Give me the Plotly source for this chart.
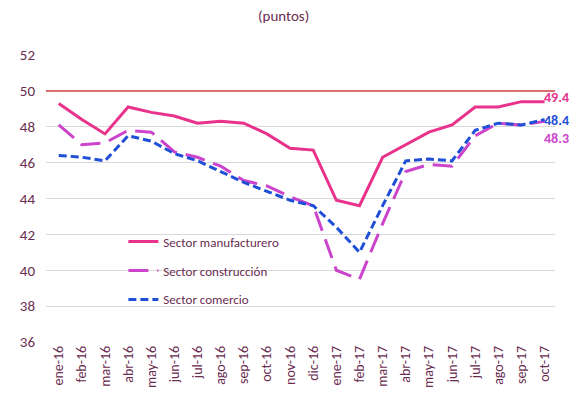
import plotly.graph_objects as go

months = ["ene-16", "feb-16", "mar-16", "abr-16", "may-16", "jun-16", "jul-16", "ago-16",
          "sep-16", "oct-16", "nov-16", "dic-16", "ene-17", "feb-17", "mar-17", "abr-17",
          "may-17", "jun-17", "jul-17", "ago-17", "sep-17", "oct-17"]
manufacturero = [49.3, 48.4, 47.6, 49.1, 48.8, 48.6, 48.2, 48.3, 48.2, 47.6, 46.8, 46.7,
                 43.9, 43.6, 46.3, 47.0, 47.7, 48.1, 49.1, 49.1, 49.4, 49.4]
construccion = [48.1, 47.0, 47.1, 47.8, 47.7, 46.6, 46.3, 45.8, 45.0, 44.7, 44.1, 43.6,
                40.0, 39.5, 42.6, 45.5, 45.9, 45.8, 47.5, 48.2, 48.1, 48.3]
comercio = [46.4, 46.3, 46.1, 47.5, 47.2, 46.5, 46.1, 45.5, 44.9, 44.4, 43.9, 43.6,
            42.4, 41.0, 43.6, 46.1, 46.2, 46.1, 47.8, 48.2, 48.1, 48.4]
y_ticks = [36, 38, 40, 42, 44, 46, 48, 50, 52]
threshold = 50

FONT = "Carlito, 'Liberation Sans Narrow', Lato, 'Open Sans', sans-serif"
TXT = "#6a2c50"
C_MAN = "#e8328c"
C_CON = "#cc44cc"
C_COM = "#1f4fd6"

fig = go.Figure()
fig.add_trace(go.Scatter(x=months, y=manufacturero, mode="lines", name="Sector manufacturero",
                         line=dict(color=C_MAN, width=3), legendgroup="a", cliponaxis=False))
fig.add_trace(go.Scatter(x=months, y=construccion, mode="lines", name="Sector construcción",
                         line=dict(color=C_CON, width=3, dash="20px,9px"), legendgroup="b", cliponaxis=False))
fig.add_trace(go.Scatter(x=months, y=comercio, mode="lines", name="Sector comercio",
                         line=dict(color=C_COM, width=3, dash="8px,4px"), legendgroup="c", cliponaxis=False))

fig.add_shape(type="line", xref="paper", x0=0, x1=1, yref="y", y0=threshold, y1=threshold,
              line=dict(color="#d24444", width=1.5), layer="above")

# end labels
for vals, col, dy in [(manufacturero, C_MAN, 4), (comercio, C_COM, -1), (construccion, C_CON, -17)]:
    fig.add_annotation(x=months[-1], y=vals[-1], text=f"<b>{vals[-1]:.1f}</b>", showarrow=False,
                       xanchor="left", yanchor="middle", xshift=-3, yshift=dy,
                       font=dict(family=FONT, size=14, color=col))

fig.add_annotation(xref="paper", yref="paper", x=0.466, y=1.0, yshift=50, text="(puntos)",
                   showarrow=False, font=dict(family=FONT, size=15, color=TXT))

fig.update_layout(
    width=575, height=400,
    margin=dict(l=34, r=28, t=47, b=66),
    paper_bgcolor="white", plot_bgcolor="white",
    font=dict(family=FONT, color=TXT),
    showlegend=True,
    legend=dict(x=0.152, y=0.402, xanchor="left", yanchor="top", bgcolor="rgba(0,0,0,0)",
                font=dict(family=FONT, size=13, color=TXT), tracegroupgap=9),
    xaxis=dict(type="category", range=[-0.55, 21.45], tickangle=-90, showgrid=False,
               showline=False, ticks="", tickfont=dict(family=FONT, size=14, color=TXT)),
    yaxis=dict(range=[36, 52], tickvals=y_ticks, showgrid=True, gridcolor="#d9d9d9",
               gridwidth=1, zeroline=False, showline=False, ticks="",
               ticklabelstandoff=10, tickfont=dict(family=FONT, size=15, color=TXT)),
)

fig.write_html("out.html")
